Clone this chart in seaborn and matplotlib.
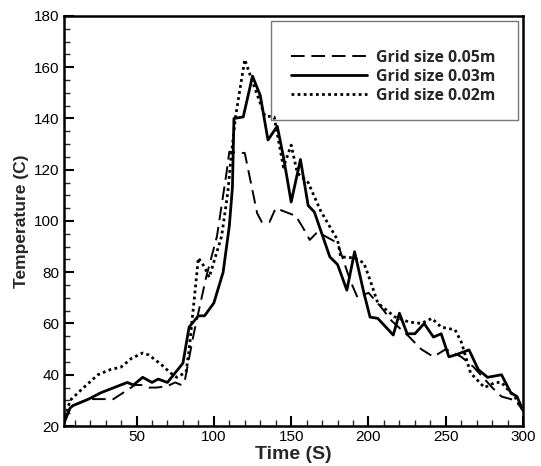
import matplotlib
matplotlib.use("Agg")
import matplotlib.pyplot as plt
import pandas as pd
import seaborn as sns
from matplotlib.patches import Rectangle
from matplotlib.ticker import MultipleLocator

# Grid size 0.05m (dashed)
t_005 = [3, 7, 9, 19, 35, 44, 49, 53, 58, 63, 70, 75, 79, 81, 87, 95, 102, 108,
         110, 120, 128, 131, 136, 140, 146, 153, 158, 162, 167, 180, 188, 193,
         200, 208, 215, 226, 234, 242, 250, 260, 268, 280, 286, 295, 300]
temp_005 = [21, 27, 28, 30.5, 30.5, 34, 36, 36, 35, 35, 35.6, 37, 36, 37, 56, 78,
            94, 118, 127, 126.5, 103, 99.6, 99.6, 105, 103.6, 102, 97, 92.6, 95.7,
            91.4, 77, 70, 72, 66.5, 61, 55, 50, 47, 50, 47, 43, 35, 31.5, 30, 26]

# Grid size 0.03m (solid)
t_003 = [3, 7, 9, 19, 27, 44, 48, 54, 60, 64, 70, 74, 80, 84, 90, 94, 100, 106,
         110, 112, 113, 119, 125, 130, 135, 141, 145, 150, 156, 161, 165, 175,
         180, 186, 191, 197, 201, 206, 216, 220, 225, 230, 236, 242, 247, 252,
         256, 265, 271, 277, 286, 292, 296, 300]
temp_003 = [21, 27, 28, 30.5, 33, 37, 36, 39, 37, 38.3, 37, 40, 44.5, 58.6, 63, 63,
            68, 80, 98, 113, 140, 140.6, 156.5, 149, 131.6, 137, 125, 107.4, 124,
            106, 103.5, 86, 83, 73, 88, 72, 62.5, 62, 55.5, 64, 56, 56, 60, 54.7,
            56, 47, 47.7, 49.7, 42, 39, 40, 33, 31.5, 26]

# Grid size 0.02m (dotted)
t_002 = [3, 7, 14, 25, 33, 40, 47, 54, 58, 66, 72, 76, 82, 84, 90, 94, 97, 105,
         109, 111, 114, 120, 124, 133, 139, 145, 150, 154, 161, 169, 180, 182,
         191, 197, 201, 206, 208, 217, 226, 234, 241, 247, 256, 260, 266, 275,
         282, 286, 295, 300]
temp_002 = [21, 30, 34, 40, 42, 43, 46.5, 48.5, 47.7, 44, 40.7, 39, 41, 49.6, 85.6,
            82, 78, 94, 111, 124, 140.6, 163, 156, 141, 140.6, 121, 129.6, 118.7,
            115, 104, 92.6, 86, 85.6, 83.6, 77, 68, 67, 62.6, 60.6, 60, 62, 58.6,
            57.5, 52.8, 40.7, 35, 37, 37, 31, 26]

labels = ["Grid size 0.05m", "Grid size 0.03m", "Grid size 0.02m"]

sns.set_theme(style="ticks")
plt.rcParams["font.family"] = ["Liberation Sans", "DejaVu Sans"]

fig = plt.figure(figsize=(5.41, 4.66), dpi=100)
ax = fig.add_axes([0.118, 0.0858, 0.849, 0.88])

series = [
    (t_005, temp_005, labels[0], dict(dashes=(7, 3.5), linewidth=1.4)),
    (t_003, temp_003, labels[1], dict(linestyle="-", linewidth=2.0)),
    (t_002, temp_002, labels[2], dict(dashes=(1, 1.2), linewidth=2.0)),
]
for t, temp, lab, style in series:
    df = pd.DataFrame({"Time": t, "Temperature": temp})
    sns.lineplot(data=df, x="Time", y="Temperature", ax=ax, color="black",
                 label=lab, sort=False, **style)

ax.set_xlim(3, 300)
ax.set_ylim(20, 180)
ax.xaxis.set_major_locator(MultipleLocator(50))
ax.xaxis.set_minor_locator(MultipleLocator(10))
ax.yaxis.set_major_locator(MultipleLocator(20))
ax.yaxis.set_minor_locator(MultipleLocator(5))
ax.tick_params(which="major", direction="in", length=7, width=1.5,
               labelsize=11, colors="black", pad=3)
ax.tick_params(which="minor", direction="in", length=4, width=1.0)
for s in ax.spines.values():
    s.set_linewidth(1.8)
    s.set_color("black")

ax.set_xlabel("Time (S)", fontsize=14, fontweight="bold", labelpad=1)
ax.set_ylabel("Temperature (C)", fontsize=12.5, fontweight="bold", labelpad=4)

leg = ax.legend(loc="upper left", bbox_to_anchor=(0.495, 0.918), frameon=False,
                handlelength=4.8, handletextpad=0.55, labelspacing=0.2,
                borderpad=0, borderaxespad=0,
                prop={"family": "Open Sans", "weight": "bold", "size": 11.4})
ax.add_patch(Rectangle((0.451, 0.746), 0.538, 0.242, transform=ax.transAxes,
                       fill=False, edgecolor="#777777", linewidth=1.0, zorder=5))

fig.savefig("out.png", dpi=100)
